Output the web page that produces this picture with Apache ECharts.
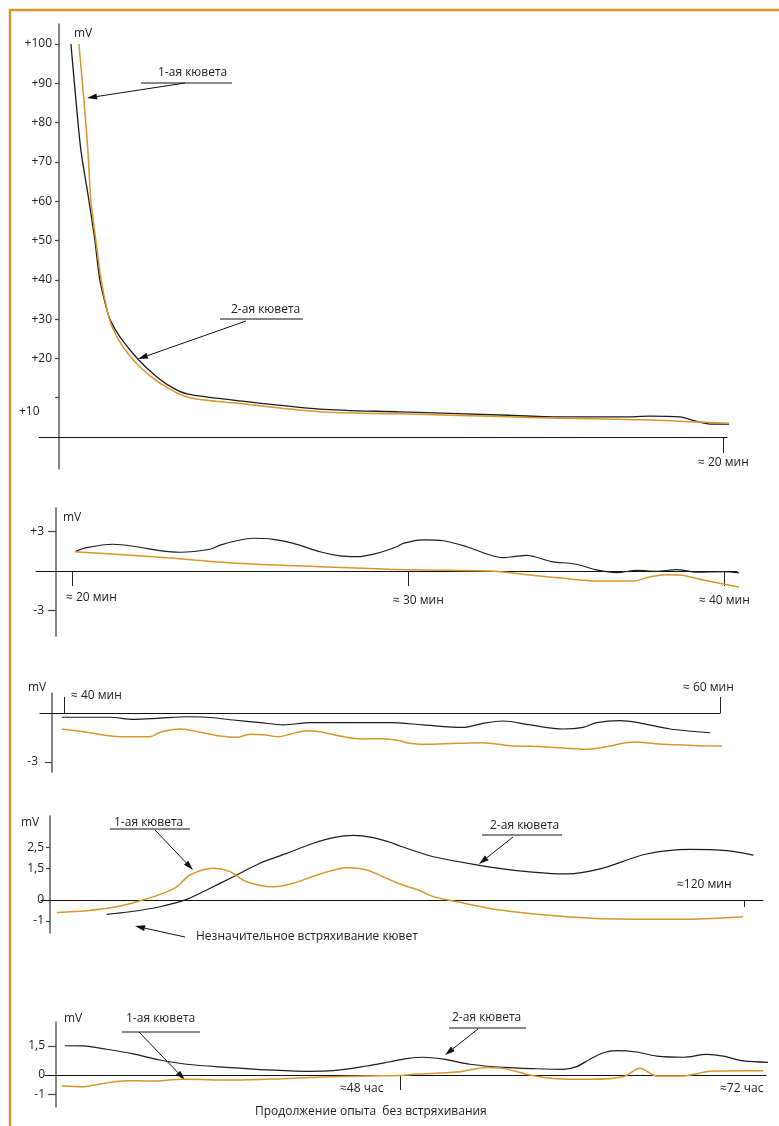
<!DOCTYPE html>
<html>
<head>
<meta charset="utf-8">
<script src="https://cdn.jsdelivr.net/npm/echarts@6/dist/echarts.min.js"></script>
<style>
html, body { margin: 0; padding: 0; background: #fff; }
#chart { width: 779px; height: 1126px; }
</style>
</head>
<body>
<div id="chart"></div>
<script>
// panel 1: first ~20 min (x in minutes, y in mV)
var p1Black = [[0.36,100],[0.51,85.8],[0.66,73.0],[0.90,60.3],[1.08,50.1],[1.23,40.0],[1.42,33.1],[1.54,29.8],
	[1.84,25.4],[2.38,19.8],[2.95,15.3],[3.43,12.5],[3.89,10.9],[5.24,9.4],[7.86,7.1],[10.27,6.4],[13.28,5.6],
	[15.09,5.1],[16.99,5.1],[17.80,5.3],[18.70,5.1],[19.16,4.1],[19.61,3.3],[20.21,3.3],[20.87,3.6]];
var p1Orange = [[0.60,100],[0.75,85.8],[0.87,73.0],[0.96,60.3],[1.11,50.1],[1.27,40.0],[1.45,32.3],[1.60,28.0],
	[1.93,22.9],[2.44,17.8],[3.04,13.7],[3.86,10.2],[5.24,8.7],[7.86,6.4],[10.27,5.9],[13.28,5.2],[15.09,4.8],
	[17.80,4.3],[19.31,3.8],[20.87,3.3]];
var p1XTicks = [20];
var p1YTicks = [10, 20, 30, 40, 50, 60, 70, 80, 90, 100];
var p1YLabels = [20, 30, 40, 50, 60, 70, 80, 90, 100];

// panel 2: 20..40 min
var p2Black = [[20.09,1.47],[20.45,1.78],[21.26,2.04],[21.98,1.85],[22.70,1.55],[23.31,1.43],[24.23,1.66],[24.54,1.98],
	[25.05,2.31],[25.56,2.50],[26.17,2.42],[26.79,2.11],[27.61,1.47],[28.22,1.15],[28.73,1.09],[29.35,1.35],[29.96,1.85],
	[30.16,2.11],[30.78,2.37],[31.39,2.31],[32.11,1.85],[32.82,1.22],[33.23,1.02],[33.54,1.09],[33.95,1.20],[34.25,1.05],
	[34.76,0.69],[35.28,0.59],[35.68,0.38],[36.09,0.08],[36.71,-0.13],[37.32,0.05],[37.94,-0.02],[38.55,0.10],
	[39.16,-0.08],[39.98,-0.05],[40.90,-0.31]];
var p2Orange = [[20.09,1.47],[22.49,1.09],[25.05,0.59],[27.61,0.33],[29.75,0.13],[30.78,0.08],[32.82,0.00],[34.05,-0.31],
	[35.07,-0.56],[36.09,-0.76],[37.22,-0.76],[37.73,-0.44],[38.24,-0.28],[38.65,-0.31],[39.37,-0.69],[39.98,-0.99],[40.80,-1.37]];
var p2XTicks = [20, 30.3, 40]; // hand-drawn ticks are unevenly spaced
var p2YTicks = [3, -3];

// panel 3: 40..60 min
var p3Black = [[39.93,-0.26],[41.40,-0.26],[42.11,-0.39],[42.93,-0.31],[43.74,-0.23],[44.35,-0.26],[45.16,-0.43],
	[45.98,-0.59],[46.69,-0.73],[47.50,-0.59],[48.82,-0.59],[49.94,-0.59],[50.95,-0.73],[52.17,-0.88],[52.78,-0.63],
	[53.39,-0.49],[54.21,-0.73],[55.22,-0.98],[55.83,-0.88],[56.24,-0.59],[56.95,-0.47],[57.46,-0.57],[58.48,-0.98],[59.70,-1.21]];
var p3Orange = [[39.93,-0.98],[40.69,-1.18],[41.71,-1.45],[42.62,-1.45],[42.93,-1.18],[43.54,-0.98],[44.15,-1.18],
	[44.76,-1.41],[45.27,-1.49],[45.67,-1.30],[46.08,-1.33],[46.53,-1.45],[46.89,-1.30],[47.40,-1.08],[47.80,-1.15],
	[48.41,-1.41],[49.02,-1.59],[49.73,-1.57],[50.24,-1.70],[50.45,-1.82],[50.95,-1.92],[51.97,-1.86],[52.78,-1.82],
	[53.60,-2.00],[54.61,-2.06],[55.94,-2.22],[56.54,-2.06],[57.36,-1.78],[58.27,-1.92],[59.49,-2.00],[60.61,-2.06]];
var p3XTicks = [40, 60];
var p3YTicks = [-3];

// panel 4: 60..120 min, light shaking
var p4Black = [[64.90,-0.68],[66.91,-0.56],[69.51,-0.32],[71.81,0.03],[73.54,0.48],[75.84,1.11],[78.15,1.75],[80.46,2.22],
	[82.76,2.70],[84.49,2.97],[86.21,3.08],[87.94,2.97],[89.39,2.75],[90.25,2.57],[91.98,2.25],[93.13,2.06],[96.88,1.67],
	[100.34,1.40],[104.66,1.24],[107.54,1.48],[111.57,2.19],[115.32,2.41],[118.49,2.35],[120.79,2.14]];
var p4Orange = [[60.58,-0.59],[63.17,-0.51],[65.47,-0.35],[67.49,-0.08],[69.51,0.27],[70.95,0.63],[72.10,1.19],[74.11,1.51],
	[75.56,1.35],[77.00,0.87],[79.30,0.63],[81.03,0.80],[83.34,1.24],[85.64,1.54],[87.37,1.43],[89.10,1.03],[90.25,0.76],
	[91.98,0.44],[93.13,0.16],[94.86,-0.05],[98.89,-0.48],[104.66,-0.80],[110.42,-0.92],[116.18,-0.90],[119.92,-0.80]];
var p4XTicks = [120];
var p4YTicks = [-1, 1.5, 2.5];
var p4YLabels = [-1, 0, 1.5, 2.5];

// panel 5: 24..72 h, no shaking
var p5Black = [[24.36,1.50],[25.65,1.49],[27.30,1.32],[29.18,1.08],[31.06,0.77],[32.95,0.55],[35.77,0.39],[38.59,0.26],
	[41.42,0.19],[43.29,0.22],[45.65,0.46],[47.29,0.68],[48.47,0.84],[49.64,0.91],[51.06,0.81],[52.94,0.55],[55.29,0.39],
	[57.65,0.32],[59.52,0.29],[60.47,0.43],[61.41,0.81],[62.35,1.14],[63.29,1.25],[64.70,1.18],[66.12,0.97],[68.00,0.91],
	[69.64,1.06],[70.82,0.97],[72.23,0.72],[74.11,0.65]];
var p5Orange = [[24.13,-0.55],[25.65,-0.60],[27.06,-0.43],[28.71,-0.29],[30.36,-0.31],[32.71,-0.22],[36.24,-0.26],
	[39.76,-0.19],[42.12,-0.12],[45.65,-0.05],[48.00,-0.02],[49.18,0.05],[52.00,0.15],[54.12,0.39],[55.29,0.34],
	[57.17,0.00],[59.06,-0.19],[61.41,-0.22],[63.76,-0.09],[64.94,0.34],[66.12,-0.05],[68.00,-0.05],[69.88,0.19],
	[71.99,0.22],[73.64,0.22]];
var p5XTicks = [48];
var p5YTicks = [-1, 1.5];
var p5YLabels = [-1, 0, 1.5];

var ORANGE = '#d8962c';
var BLACK = '#1c1c1c';
var FONT = 'Open Sans';

function plus(v) { return v > 0 ? '+' + v : String(v); }
function comma(v) { return String(v).replace('.', ','); }

function makeGrid(left, right, top, height) {
	return { left: left, right: right, top: top, height: height, containLabel: false, outerBoundsMode: 'none' };
}
function makeX(i, min, max, ticks, len, inside) {
	return {
		type: 'value', gridIndex: i, min: min, max: max,
		splitLine: { show: false },
		axisLine: { show: true, onZero: true, lineStyle: { color: '#111', width: 1 } },
		axisTick: { show: true, customValues: ticks, length: len, inside: !!inside, lineStyle: { color: '#222', width: 1 } },
		axisLabel: { show: false }
	};
}
function makeY(i, min, max, offset, ticks, labels, len, margin, fmt) {
	return {
		type: 'value', gridIndex: i, min: min, max: max, offset: offset,
		splitLine: { show: false },
		axisLine: { show: true, onZero: false, lineStyle: { color: '#666', width: 1.6 } },
		axisTick: { show: true, customValues: ticks, length: len, lineStyle: { color: '#444', width: 1.2 } },
		axisLabel: { show: true, customValues: labels, margin: margin, formatter: fmt, color: '#222', fontSize: 12, fontFamily: FONT }
	};
}
function curve(i, data, color, width) {
	return {
		type: 'line', xAxisIndex: i, yAxisIndex: i, data: data, showSymbol: false, symbol: 'none',
		smooth: 0.3, clip: false, silent: true,
		lineStyle: { color: color, width: width }
	};
}
function text(s, x, y) {
	return { type: 'text', x: x, y: y, silent: true,
		style: { text: s, fill: '#222', font: '12px "Open Sans", sans-serif', align: 'left', verticalAlign: 'middle', textAlign: 'left', textVerticalAlign: 'middle' } };
}
function seg(x1, y1, x2, y2) {
	return { type: 'line', silent: true, shape: { x1: x1, y1: y1, x2: x2, y2: y2 }, style: { stroke: '#111', lineWidth: 1 } };
}
function arrow(x1, y1, x2, y2) {
	var a = Math.atan2(y2 - y1, x2 - x1), L = 10, W = 3;
	var bx = x2 - L * Math.cos(a), by = y2 - L * Math.sin(a);
	var px = -Math.sin(a) * W, py = Math.cos(a) * W;
	return [seg(x1, y1, bx, by), { type: 'polygon', silent: true,
		shape: { points: [[x2, y2], [bx + px, by + py], [bx - px, by - py]] }, style: { fill: '#111' } }];
}

var graphics = [
	{ type: 'polyline', silent: true, shape: { points: [[10, 1126], [10, 10], [779, 10]] }, style: { stroke: ORANGE, lineWidth: 2.5, fill: null } },
	text('mV', 74, 34), text('1-ая кювета', 158, 73), text('2-ая кювета', 231, 310), text('+10', 19, 412), text('≈ 20 мин', 698, 463),
	seg(141, 83, 232, 83), seg(220, 319, 303, 319),
	text('mV', 63, 518), text('≈ 20 мин', 66, 598), text('≈ 30 мин', 393, 601), text('≈ 40 мин', 699, 601),
	text('mV', 28, 688), text('≈ 40 мин', 71, 696), text('≈ 60 мин', 683, 688),
	text('mV', 21, 823), text('1-ая кювета', 114, 823), text('2-ая кювета', 490, 826), text('≈120 мин', 677, 885),
	text('Незначительное встряхивание кювет', 196, 937),
	seg(110, 829, 190, 829), seg(482, 835, 562, 835),
	text('mV', 64, 1019), text('1-ая кювета', 126, 1019), text('2-ая кювета', 452, 1018), text('≈48 час', 340, 1089),
	text('≈72 час', 720, 1089), text('Продолжение опыта  без встряхивания', 255, 1112),
	seg(122, 1032, 200, 1032), seg(449, 1028, 526, 1028)
].concat(arrow(185, 83, 87, 98), arrow(246, 321, 138, 359), arrow(155, 830, 193, 870), arrow(513, 837, 479, 864),
	arrow(185, 937, 135, 926), arrow(139, 1032, 185, 1080), arrow(478, 1029, 445, 1055));

var chart = echarts.init(document.getElementById('chart'), null, { renderer: 'canvas' });
chart.setOption({
	animation: false,
	backgroundColor: '#fff',
	textStyle: { fontFamily: FONT },
	grid: [
		makeGrid(39, 52, 24, 445),
		makeGrid(36, 42, 508, 128),
		makeGrid(40, 59, 693, 79),
		makeGrid(41, 16, 816, 117),
		makeGrid(45, 13, 1022, 85)
	],
	xAxis: [
		makeX(0, -0.602, 20.12, p1XTicks, 16),
		makeX(1, 18.896, 40.399, p2XTicks, 15),
		makeX(2, 39.268, 60, p3XTicks, 16, true),
		makeX(3, 59.222, 121.625, p4XTicks, 7),
		makeX(4, 22.947, 73.83, p5XTicks, 15)
	],
	yAxis: [
		makeY(0, -8.14, 105.09, -20, p1YTicks, p1YLabels, 4, 7, plus),
		makeY(1, -4.962, 4.809, -20, p2YTicks, p2YTicks, 8, 12, plus),
		makeY(2, -3.613, 1.2247, -12, p3YTicks, p3YTicks, 7, 14, plus),
		makeY(3, -1.571, 4.0, -9, p4YTicks, p4YLabels, 4, 6, comma),
		makeY(4, -1.641, 2.718, -11, p5YTicks, p5YLabels, 8, 11, comma)
	],
	series: [
		curve(0, p1Black, BLACK, 1.3), curve(0, p1Orange, ORANGE, 1.5),
		curve(1, p2Black, BLACK, 1.2), curve(1, p2Orange, ORANGE, 1.5),
		curve(2, p3Black, BLACK, 1.2), curve(2, p3Orange, ORANGE, 1.5),
		curve(3, p4Black, BLACK, 1.2), curve(3, p4Orange, ORANGE, 1.5),
		curve(4, p5Black, BLACK, 1.2), curve(4, p5Orange, ORANGE, 1.5)
	],
	graphic: { elements: graphics }
});
</script>
</body>
</html>
